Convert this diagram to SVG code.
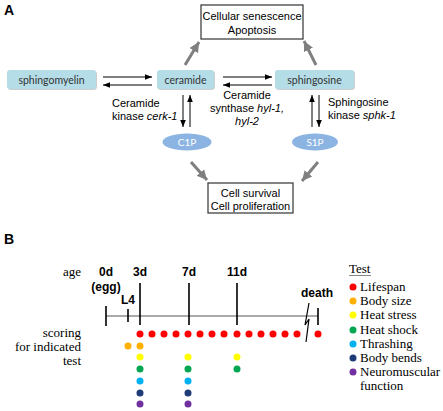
<svg xmlns="http://www.w3.org/2000/svg" width="443" height="411" viewBox="0 0 443 411">
<style>
.lbl{font-family:"Liberation Sans",Arial,sans-serif;font-size:11px;fill:#000}
.big{font-family:"Liberation Sans",Arial,sans-serif;font-size:14px;font-weight:bold;fill:#000}
.bx{fill:#b5dde8}
.bxt{font-family:Lato,"Open Sans",sans-serif;font-size:10.5px;fill:#333;text-anchor:middle}
.el{fill:#8cb4e2}
.elt{font-family:Lato,"Open Sans",sans-serif;font-size:10px;fill:#fff;text-anchor:middle}
.out{fill:#fff;stroke:#333;stroke-width:1.2}
.ba{stroke:#000;stroke-width:1;fill:none;marker-end:url(#ah)}
.ga{stroke:#7f7f7f;stroke-width:3;fill:none;marker-end:url(#gh)}
.ser{font-family:"Liberation Serif","Times New Roman",serif;font-size:13px;fill:#000}
.bd{font-family:"Liberation Sans",Arial,sans-serif;font-size:12px;font-weight:bold;fill:#000;text-anchor:middle}
.tk{stroke:#000;stroke-width:1.6}
</style>
<defs>
<marker id="ah" markerUnits="userSpaceOnUse" markerWidth="8" markerHeight="8" refX="7" refY="4" orient="auto">
<path d="M0,1.2 L7,4 L0,6.8 Z" fill="#000"/>
</marker>
<marker id="gh" markerUnits="userSpaceOnUse" markerWidth="12" markerHeight="12" refX="10" refY="6" orient="auto">
<path d="M0,1 L10,6 L0,11 Z" fill="#7f7f7f"/>
</marker>
<filter id="sh" x="-10%" y="-20%" width="120%" height="150%">
<feDropShadow dx="0.8" dy="0.8" stdDeviation="0.6" flood-color="#999" flood-opacity="0.6"/>
</filter>
</defs>

<text class="big" x="4" y="15">A</text>
<text class="big" x="4" y="244">B</text>

<g id="connectors">
<line class="ba" x1="103" y1="77" x2="152" y2="77"/>
<line class="ba" x1="152" y1="85" x2="103" y2="85"/>
<line class="ba" x1="223" y1="77" x2="272" y2="77"/>
<line class="ba" x1="272" y1="85" x2="223" y2="85"/>
<line class="ba" x1="183" y1="95" x2="183" y2="127"/>
<line class="ba" x1="190" y1="127" x2="190" y2="95"/>
<line class="ba" x1="312" y1="127" x2="312" y2="95"/>
<line class="ba" x1="319" y1="95" x2="319" y2="127"/>
<line class="ga" x1="185" y1="65" x2="199" y2="42"/>
<line class="ga" x1="316" y1="65" x2="304" y2="41"/>
<line class="ga" x1="191" y1="162" x2="207" y2="180"/>
<line class="ga" x1="318" y1="162" x2="302" y2="181"/>
</g>

<g id="senescence">
<rect class="out" x="201" y="5" width="102" height="34"/>
<text class="lbl" x="252" y="20" text-anchor="middle">Cellular senescence</text>
<text class="lbl" x="252" y="34" text-anchor="middle">Apoptosis</text>
</g>
<g id="sphingomyelin">
<rect class="bx" x="7" y="70" width="89" height="19" rx="3" filter="url(#sh)"/>
<text class="bxt" x="51.5" y="83.5">sphingomyelin</text>
</g>
<g id="ceramide">
<rect class="bx" x="157" y="70" width="57" height="19" rx="3" filter="url(#sh)"/>
<text class="bxt" x="185.5" y="83.5">ceramide</text>
</g>
<g id="sphingosine">
<rect class="bx" x="275" y="70" width="79" height="19" rx="3" filter="url(#sh)"/>
<text class="bxt" x="314.5" y="83.5">sphingosine</text>
</g>
<g id="c1p">
<ellipse class="el" cx="187" cy="142" rx="24.5" ry="8.5"/>
<text class="elt" x="187" y="145.5">C1P</text>
</g>
<g id="s1p">
<ellipse class="el" cx="315" cy="142" rx="23" ry="8.5"/>
<text class="elt" x="315" y="145.5">S1P</text>
</g>
<g id="survival">
<rect class="out" x="208" y="183" width="85" height="30"/>
<text class="lbl" x="250.5" y="197" text-anchor="middle">Cell survival</text>
<text class="lbl" x="250.5" y="210" text-anchor="middle">Cell proliferation</text>
</g>
<g id="enzyme-labels">
<text class="lbl" x="112" y="107">Ceramide</text>
<text class="lbl" x="112" y="120">kinase <tspan font-style="italic">cerk-1</tspan></text>
<text class="lbl" x="247" y="99" text-anchor="middle">Ceramide</text>
<text class="lbl" x="247" y="112" text-anchor="middle">synthase <tspan font-style="italic">hyl-1,</tspan></text>
<text class="lbl" x="247" y="125" text-anchor="middle" font-style="italic">hyl-2</text>
<text class="lbl" x="328" y="106">Sphingosine</text>
<text class="lbl" x="328" y="119">kinase <tspan font-style="italic">sphk-1</tspan></text>
</g>

<g id="timeline">
<text class="ser" x="81" y="276" text-anchor="end">age</text>
<text class="ser" x="81" y="337" text-anchor="end">scoring</text>
<text class="ser" x="81" y="351" text-anchor="end">for indicated</text>
<text class="ser" x="81" y="365" text-anchor="end">test</text>
<text class="bd" x="106" y="276">0d</text>
<text class="bd" x="106" y="291">(egg)</text>
<text class="bd" x="140" y="276">3d</text>
<text class="bd" x="189" y="276">7d</text>
<text class="bd" x="237" y="276">11d</text>
<text class="bd" x="128" y="304">L4</text>
<text class="bd" x="317" y="297">death</text>
<line x1="106" y1="316" x2="318" y2="316" stroke="#555" stroke-width="1"/>
<line class="tk" x1="106" y1="306" x2="106" y2="326"/>
<line class="tk" x1="128" y1="309" x2="128" y2="322"/>
<line class="tk" x1="140" y1="283" x2="140" y2="325"/>
<line class="tk" x1="189" y1="283" x2="189" y2="325"/>
<line class="tk" x1="237" y1="283" x2="237" y2="325"/>
<line class="tk" x1="318" y1="308" x2="318" y2="325"/>
<polyline points="309,303 305,325 309,319 306,342" fill="none" stroke="#000" stroke-width="1.2"/>
</g>

<g id="dots">
<g fill="#ff0000">
<circle cx="140" cy="334" r="3.5"/><circle cx="152" cy="334" r="3.5"/><circle cx="164" cy="334" r="3.5"/><circle cx="176" cy="334" r="3.5"/><circle cx="188" cy="334" r="3.5"/><circle cx="200" cy="334" r="3.5"/><circle cx="212" cy="334" r="3.5"/><circle cx="224" cy="334" r="3.5"/><circle cx="237" cy="334" r="3.5"/><circle cx="249" cy="334" r="3.5"/><circle cx="261" cy="334" r="3.5"/><circle cx="273" cy="334" r="3.5"/><circle cx="285" cy="334" r="3.5"/><circle cx="297" cy="334" r="3.5"/><circle cx="318" cy="334" r="3.5"/>
</g>
<g fill="#ffb000"><circle cx="128" cy="346" r="3.5"/><circle cx="140" cy="346" r="3.5"/></g>
<g fill="#ffff00"><circle cx="140" cy="357" r="3.5"/><circle cx="188" cy="357" r="3.5"/><circle cx="237" cy="357" r="3.5"/></g>
<g fill="#00a651"><circle cx="140" cy="369" r="3.5"/><circle cx="188" cy="369" r="3.5"/><circle cx="237" cy="369" r="3.5"/></g>
<g fill="#00b0f0"><circle cx="140" cy="381" r="3.5"/><circle cx="188" cy="381" r="3.5"/></g>
<g fill="#1f3c78"><circle cx="140" cy="393" r="3.5"/><circle cx="188" cy="393" r="3.5"/></g>
<g fill="#7030a0"><circle cx="140" cy="404" r="3.5"/><circle cx="188" cy="404" r="3.5"/></g>
</g>

<g id="legend">
<text class="ser" x="349" y="273">Test</text>
<line x1="349" y1="275.5" x2="371" y2="275.5" stroke="#888" stroke-width="1"/>
<circle cx="353" cy="287" r="3.5" fill="#ff0000"/><text class="ser" x="360" y="291">Lifespan</text>
<circle cx="353" cy="301" r="3.5" fill="#ffb000"/><text class="ser" x="360" y="305">Body size</text>
<circle cx="353" cy="315" r="3.5" fill="#ffff00"/><text class="ser" x="360" y="319">Heat stress</text>
<circle cx="353" cy="330" r="3.5" fill="#00a651"/><text class="ser" x="360" y="334">Heat shock</text>
<circle cx="353" cy="344" r="3.5" fill="#00b0f0"/><text class="ser" x="360" y="348">Thrashing</text>
<circle cx="353" cy="358" r="3.5" fill="#1f3c78"/><text class="ser" x="360" y="362">Body bends</text>
<circle cx="353" cy="372" r="3.5" fill="#7030a0"/><text class="ser" x="360" y="376">Neuromuscular</text>
<text class="ser" x="360" y="390">function</text>
</g>
</svg>
